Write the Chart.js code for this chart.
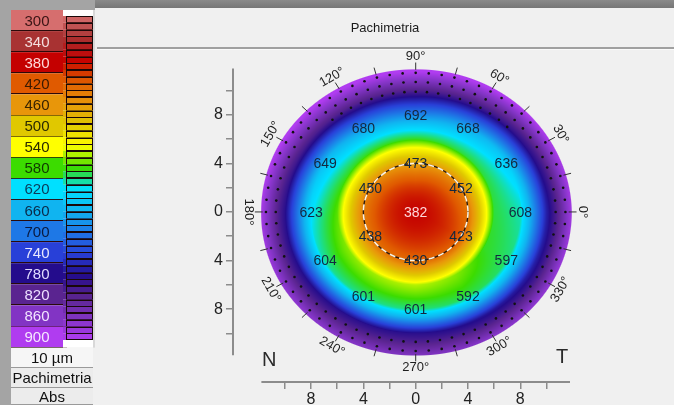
<!DOCTYPE html>
<html><head><meta charset="utf-8">
<script src="https://cdn.jsdelivr.net/npm/chart.js@4.4.1/dist/chart.umd.min.js"></script>
<style>html,body{margin:0;padding:0;background:#f0f0f0;overflow:hidden}canvas{display:block}</style>
</head><body><canvas id="c" width="674" height="405"></canvas>
<script>
const FONT = '"Liberation Sans", Arial, sans-serif';
// colour scale
const legendValues = [300,340,380,420,460,500,540,580,620,660,700,740,780,820,860,900];
const legendColors = ['#d66e6e','#a83232','#c40000','#e05a00','#e8960a','#e0c800','#ffff00','#3cdc00','#00e0ff','#10b4f0','#1e78e6','#2840d8','#240c8c','#5a2490','#8234c4','#b03cf0'];
const legendTextColors = ['#3a1414','#f4dede','#ffd8d8','#3a1a00','#3a2400','#2a2a00','#2a2a00','#0f3a00','#0a3a5a','#0a2a4a','#0a1a40','#e8e8ff','#e0dcff','#eee0ff','#f2e4ff','#f6e8ff'];
const legendFooter = ['10 µm','Pachimetria','Abs'];
// measured thickness values (µm)
const centerValue = 382;
const ring4Angles = [90,30,330,270,210,150];
const ring4Values = [473,452,423,430,438,450];
const ring8Angles = [90,60,30,0,330,300,270,240,210,180,150,120];
const ring8Values = [692,668,636,608,597,592,601,601,604,623,649,680];
// values estimated from the map colours
const estAngles = [0,30,60,90,120,150,180,210,240,270,300,330];
const ring6Values = [590,590,590,585,585,585,575,565,560,555,565,585];
const ring10Values = [765,785,805,815,815,805,785,780,785,785,775,765];
const edgeValues = [885,895,905,910,910,905,890,875,865,855,865,875];
const edgeRadius = [11.9,11.8,11.75,11.7,11.75,11.8,11.78,11.85,11.85,11.78,11.85,11.9];
// axes
const axisTicks = [-10,-8,-6,-4,-2,0,2,4,6,8,10];
const angleLabels = [0,30,60,90,120,150,180,210,240,270,300,330];
const angleTicks = [0,15,30,45,60,75,90,105,120,135,150,165,180,195,210,225,240,255,270,285,300,315,330,345];
// extrapolated-area dot rings
const dotRingRadius = [9.9,10.7,11.45];
const dotRingFrom = [45,0,0];
const dotRingTo = [135,360,360];
const dotStep = 5;
const zoneRadius = 4;

function sortedPairs(angles, vals){
  return angles.map((a,i)=>[((a%360)+360)%360, vals[i]]).sort((a,b)=>a[0]-b[0]);
}
function angInterp(p, th){
  const n=p.length;
  for(let i=0;i<n;i++){
    const a=p[i], b=p[(i+1)%n];
    let a0=a[0], b0=b[0]; if(i===n-1) b0+=360;
    let t=th; if(t<a0) t+=360;
    if(t>=a0 && t<=b0){ return a[1]+(b[1]-a[1])*(t-a0)/(b0-a0); }
  }
  return p[0][1];
}
const P4 = sortedPairs(ring4Angles, ring4Values);
const P6 = sortedPairs(estAngles, ring6Values);
const P8 = sortedPairs(ring8Angles, ring8Values);
const P10 = sortedPairs(estAngles, ring10Values);
const PE = sortedPairs(estAngles, edgeValues);
const PR = sortedPairs(estAngles, edgeRadius);

function fieldValue(r, th, er){
  const rr=[0,4,6,8,10,er];
  const vv=[centerValue, angInterp(P4,th), angInterp(P6,th), angInterp(P8,th), angInterp(P10,th), angInterp(PE,th)];
  const s=r*r;
  for(let i=0;i<rr.length-1;i++){
    const s0=rr[i]*rr[i], s1=rr[i+1]*rr[i+1];
    if(s<=s1){ return vv[i]+(vv[i+1]-vv[i])*(s-s0)/(s1-s0); }
  }
  return vv[vv.length-1];
}
const stopRGB = legendColors.map(h=>[parseInt(h.slice(1,3),16),parseInt(h.slice(3,5),16),parseInt(h.slice(5,7),16)]);
function colorFor(v){
  if(v<=legendValues[0]) return stopRGB[0];
  const n=legendValues.length;
  if(v>=legendValues[n-1]) return stopRGB[n-1];
  for(let i=0;i<n-1;i++){
    if(v<=legendValues[i+1]){
      const t=(v-legendValues[i])/(legendValues[i+1]-legendValues[i]);
      const a=stopRGB[i], b=stopRGB[i+1];
      return [a[0]+(b[0]-a[0])*t, a[1]+(b[1]-a[1])*t, a[2]+(b[2]-a[2])*t];
    }
  }
}

const measurePoints = [{x:0,y:0,v:centerValue}];
ring4Angles.forEach((a,i)=>measurePoints.push({x:4*Math.cos(a*Math.PI/180), y:4*Math.sin(a*Math.PI/180), v:ring4Values[i]}));
ring8Angles.forEach((a,i)=>measurePoints.push({x:8*Math.cos(a*Math.PI/180), y:8*Math.sin(a*Math.PI/180), v:ring8Values[i]}));
const dotPoints = [];
dotRingRadius.forEach((r,k)=>{
  for(let a=dotRingFrom[k]; a<dotRingTo[k]; a+=dotStep){
    dotPoints.push({x:r*Math.cos(a*Math.PI/180), y:r*Math.sin(a*Math.PI/180)});
  }
});

const pachyPlugin = {
  id:'pachy',
  beforeDraw(chart){
    const ctx=chart.ctx;
    ctx.save();
    ctx.fillStyle='#f0f0f0'; ctx.fillRect(0,0,674,405);
    const g=ctx.createLinearGradient(0,0,0,8); g.addColorStop(0,'#8a8a8a'); g.addColorStop(1,'#767676');
    ctx.fillStyle=g; ctx.fillRect(0,0,674,8);
    ctx.fillStyle='#a4a4a4'; ctx.fillRect(0,0,11,405); ctx.fillRect(0,0,95,10);
    ctx.fillStyle='#a0a0a0'; ctx.fillRect(97,47,577,2);
    ctx.fillStyle='#fafafa'; ctx.fillRect(97,49,577,1);
    ctx.fillStyle='#1a1a1a'; ctx.font='13px '+FONT; ctx.textAlign='center'; ctx.textBaseline='middle';
    ctx.fillText('Pachimetria', 385, 28);
    const bx=11, bw=52, by=10, bh=21.1;
    legendValues.forEach((v,i)=>{
      const y=by+i*bh;
      ctx.fillStyle=legendColors[i]; ctx.fillRect(bx,y,bw,bh);
      ctx.fillStyle='#2a0a0a'; ctx.fillRect(bx,Math.round(y+bh)-1,bw+4,1);
      ctx.fillStyle=legendTextColors[i]; ctx.font='15px '+FONT;
      ctx.fillText(String(v), bx+bw/2, y+bh/2+1);
    });
    const sx=63, sw=30, sy0=16, sy1=340;
    ctx.fillStyle='#ffffff'; ctx.fillRect(sx,10,sw,sy0-10); ctx.fillRect(sx,sy1,sw,by+16*bh-sy1);
    const ns=48, sh=(sy1-sy0)/ns;
    for(let i=0;i<ns;i++){
      const v=legendValues[0]+(legendValues[15]-legendValues[0])*(i+0.5)/ns;
      const c=colorFor(v);
      ctx.fillStyle='rgb('+c.map(Math.round).join(',')+')';
      ctx.fillRect(sx,sy0+i*sh,sw,sh);
      ctx.strokeStyle='#1a0808'; ctx.lineWidth=1;
      ctx.strokeRect(sx+3.5, Math.round(sy0+i*sh)+0.5, sw-4, Math.round(sh)-1);
    }
    ctx.fillStyle='#d8d8d8'; ctx.fillRect(93,10,2,by+16*bh-10);
    const fy=[by+16*bh, 368, 388, 405];
    legendFooter.forEach((t,i)=>{
      ctx.fillStyle= i===0 ? '#f6f6f6' : '#ececec';
      ctx.fillRect(bx,fy[i],82,fy[i+1]-fy[i]);
      ctx.fillStyle='#9a9a9a'; ctx.fillRect(bx,fy[i+1]-1,82,1);
      ctx.fillStyle='#111'; ctx.font='15px '+FONT;
      ctx.fillText(t, bx+41, (fy[i]+fy[i+1])/2+1);
    });
    ctx.restore();
  },
  beforeDatasetsDraw(chart){
    const xs=chart.scales.x, ys=chart.scales.y, ctx=chart.ctx;
    const x0=Math.floor(xs.getPixelForValue(-12.3)), x1=Math.ceil(xs.getPixelForValue(12.3));
    const y0=Math.floor(ys.getPixelForValue(12.3)), y1=Math.ceil(ys.getPixelForValue(-12.3));
    const w=x1-x0, h=y1-y0;
    const off=document.createElement('canvas'); off.width=w; off.height=h;
    const octx=off.getContext('2d'); const img=octx.createImageData(w,h); const d=img.data;
    for(let j=0;j<h;j++){
      const y=ys.getValueForPixel(y0+j+0.5);
      for(let i=0;i<w;i++){
        const x=xs.getValueForPixel(x0+i+0.5);
        const r=Math.hypot(x,y); let th=Math.atan2(y,x)*180/Math.PI; if(th<0) th+=360;
        const er=angInterp(PR,th);
        if(r>er+0.08) continue;
        const c=colorFor(fieldValue(Math.min(r,er),th,er));
        const k=(j*w+i)*4;
        d[k]=c[0]; d[k+1]=c[1]; d[k+2]=c[2];
        d[k+3]=Math.max(0,Math.min(1,(er+0.08-r)*12))*255;
      }
    }
    octx.putImageData(img,0,0);
    ctx.drawImage(off,x0,y0);
    const cx=xs.getPixelForValue(0), cy=ys.getPixelForValue(0);
    const ux=xs.getPixelForValue(1)-cx, uy=cy-ys.getPixelForValue(1);
    ctx.save();
    ctx.beginPath(); ctx.ellipse(cx,cy,zoneRadius*ux,zoneRadius*uy,0,0,Math.PI*2);
    ctx.strokeStyle='#2a1a10'; ctx.lineWidth=1.3; ctx.stroke();
    ctx.setLineDash([6,4]); ctx.strokeStyle='#fff4e0'; ctx.lineWidth=1.6; ctx.stroke();
    ctx.setLineDash([]);
    ctx.strokeStyle='#333'; ctx.lineWidth=1;
    angleTicks.forEach(a=>{
      const t=a*Math.PI/180;
      ctx.beginPath();
      ctx.moveTo(cx+11.7*ux*Math.cos(t), cy-11.7*uy*Math.sin(t));
      ctx.lineTo(cx+12.3*ux*Math.cos(t), cy-12.3*uy*Math.sin(t));
      ctx.stroke();
    });
    ctx.fillStyle='#1e1e1e'; ctx.font='13px '+FONT; ctx.textAlign='center'; ctx.textBaseline='middle';
    angleLabels.forEach(a=>{
      const t=a*Math.PI/180;
      const px=cx+12.8*ux*Math.cos(t), py=cy-12.8*uy*Math.sin(t);
      let rot = (a===0)?90:(a<180? 90-a : 270-a);
      ctx.save(); ctx.translate(px,py); ctx.rotate(rot*Math.PI/180);
      ctx.fillText(a+'°',0,0); ctx.restore();
    });
    ctx.strokeStyle='#8c8c8c'; ctx.lineWidth=2;
    ctx.beginPath();
    ctx.moveTo(xs.getPixelForValue(-11.8), chart.chartArea.bottom);
    ctx.lineTo(xs.getPixelForValue(11.8), chart.chartArea.bottom);
    ctx.moveTo(chart.chartArea.left, ys.getPixelForValue(11.8));
    ctx.lineTo(chart.chartArea.left, ys.getPixelForValue(-11.8));
    ctx.stroke();
    ctx.fillStyle='#2a2a2a'; ctx.font='20px '+FONT;
    ctx.fillText('N', xs.getPixelForValue(-11.2), ys.getPixelForValue(-12.2));
    ctx.fillText('T', xs.getPixelForValue(11.2), ys.getPixelForValue(-12.0));
    ctx.restore();
  },
  afterDatasetsDraw(chart){
    const ctx=chart.ctx; const meta=chart.getDatasetMeta(0);
    ctx.save(); ctx.font='14px '+FONT; ctx.textAlign='center'; ctx.textBaseline='middle';
    meta.data.forEach((el,i)=>{
      const v=measurePoints[i].v;
      ctx.fillStyle = v<400 ? '#ffd8d8' : '#13283e';
      ctx.fillText(String(v), el.x, el.y+1);
    });
    ctx.restore();
  }
};

const tickFont={family:FONT,size:16};
new Chart(document.getElementById('c'),{
  type:'scatter',
  data:{datasets:[
    {label:'Spessore', data:measurePoints, pointRadius:0, pointHoverRadius:0},
    {label:'Estrapolato', data:dotPoints, pointRadius:1.3, backgroundColor:'#111', borderWidth:0, pointHoverRadius:0}
  ]},
  options:{
    responsive:false, animation:false, devicePixelRatio:1,
    layout:{padding:{top:68,left:193,right:104,bottom:1}},
    plugins:{legend:{display:false}, tooltip:{enabled:false}, title:{display:false}},
    events:[],
    scales:{
      x:{type:'linear', min:-13.97, max:11.8,
        afterBuildTicks(s){ s.ticks=axisTicks.map(v=>({value:v})); },
        afterFit(s){ s.height=22; },
        ticks:{callback:(v)=> v%4===0? String(Math.abs(v)) : '', font:tickFont, color:'#222', padding:1, autoSkip:false, maxRotation:0},
        grid:{drawOnChartArea:false, drawTicks:true, tickLength:7, color:'#8c8c8c', lineWidth:1.5},
        border:{display:false}},
      y:{type:'linear', min:-14, max:11.85,
        afterBuildTicks(s){ s.ticks=axisTicks.map(v=>({value:v})); },
        afterFit(s){ s.width=40; },
        ticks:{callback:(v)=> v%4===0? String(Math.abs(v)) : '', font:tickFont, color:'#222', padding:3, autoSkip:false},
        grid:{drawOnChartArea:false, drawTicks:true, tickLength:7, color:'#8c8c8c', lineWidth:1.5},
        border:{display:false}}
    }
  },
  plugins:[pachyPlugin]
});
</script></body></html>
